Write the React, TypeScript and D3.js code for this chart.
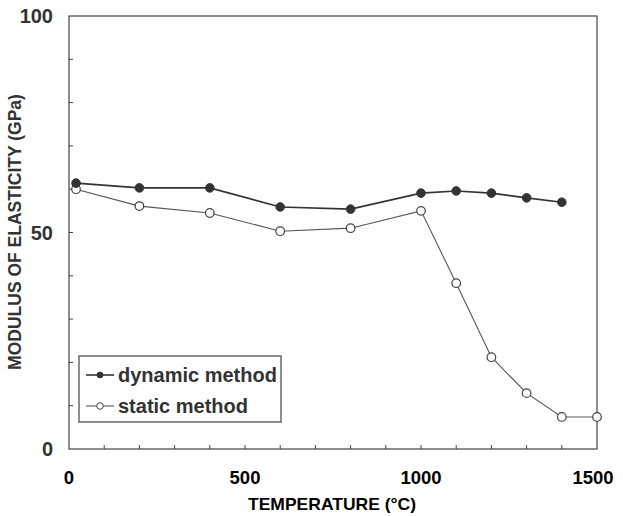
import React from 'react';
import * as d3 from 'd3';

const temperatures = [20, 200, 400, 600, 800, 1000, 1100, 1200, 1300, 1400];
const dynamicValues = [61.4, 60.3, 60.3, 55.9, 55.4, 59.1, 59.6, 59.1, 58.0, 57.0];

const staticTemps = [20, 200, 400, 600, 800, 1000, 1100, 1200, 1300, 1400, 1500];
const staticValues = [60.0, 56.1, 54.5, 50.3, 51.0, 55.0, 38.3, 21.2, 12.9, 7.4, 7.4];

const xTickLabels = [0, 500, 1000, 1500];
const yTickLabels = [0, 50, 100];

const W = 623;
const H = 516;
const left = 69;
const right = 597;
const top = 16;
const bottom = 449;

const FONT = "'Liberation Sans', Arial, sans-serif";

export default function App() {
  const x = d3.scaleLinear().domain([0, 1500]).range([left, right]);
  const y = d3.scaleLinear().domain([0, 100]).range([bottom, top]);

  const line = d3
    .line<[number, number]>()
    .x(d => x(d[0]))
    .y(d => y(d[1]));

  const dyn: [number, number][] = temperatures.map((t, i) => [t, dynamicValues[i]]);
  const sta: [number, number][] = staticTemps.map((t, i) => [t, staticValues[i]]);

  const xMinor = d3.range(100, 1500, 100);
  const yMinor = d3.range(10, 100, 10);

  return (
    <svg width={W} height={H} style={{ position: 'absolute', left: 0, top: 0, background: '#fff' }}>
      <rect x={0} y={0} width={W} height={H} fill="#fff" />
      {/* frame */}
      <rect x={left} y={y(100)} width={right - left} height={y(0) - y(100)} fill="none" stroke="#444" strokeWidth={1.2} />
      {xMinor.map(t => (
        <line key={'xt' + t} x1={x(t)} x2={x(t)} y1={y(0)} y2={y(0) - 4} stroke="#444" />
      ))}
      {yMinor.map(v => (
        <line key={'yt' + v} x1={left} x2={left + 4} y1={y(v)} y2={y(v)} stroke="#444" />
      ))}

      {/* y tick labels */}
      {yTickLabels.map(v => (
        <text key={'yl' + v} x={53} y={y(v) + 7} textAnchor="end" fontFamily={FONT} fontWeight="bold" fontSize={20} fill="#333">
          {v}
        </text>
      ))}
      {/* x tick labels */}
      {xTickLabels.map(t => (
        <text key={'xl' + t} x={x(t) - (t === 1500 ? 4 : 0)} y={484} textAnchor="middle" fontFamily={FONT} fontWeight="bold" fontSize={18.5} fill="#000">
          {t}
        </text>
      ))}

      {/* axis titles */}
      <text x={332} y={510} textAnchor="middle" fontFamily={FONT} fontWeight="bold" fontSize={17} fill="#000" textLength={168} lengthAdjust="spacingAndGlyphs">
        TEMPERATURE (°C)
      </text>
      <text
        transform={`translate(21,${232}) rotate(-90)`}
        textAnchor="middle"
        fontFamily={FONT}
        fontWeight="bold"
        fontSize={17.5}
        fill="#333"
      >
        MODULUS OF ELASTICITY (GPa)
      </text>

      {/* series */}
      <path d={line(sta) || ''} fill="none" stroke="#555" strokeWidth={1.1} />
      <path d={line(dyn) || ''} fill="none" stroke="#333" strokeWidth={1.6} />
      {sta.map((d, i) => (
        <circle key={'s' + i} cx={x(d[0])} cy={y(d[1])} r={4.3} fill="#fff" stroke="#444" strokeWidth={1.2} />
      ))}
      {dyn.map((d, i) => (
        <circle key={'d' + i} cx={x(d[0])} cy={y(d[1])} r={4.3} fill="#333" stroke="#333" strokeWidth={1} />
      ))}

      {/* legend */}
      <rect x={79} y={356} width={202} height={66} fill="#fff" stroke="#444" strokeWidth={1.2} />
      <line x1={86} x2={114} y1={375} y2={375} stroke="#333" strokeWidth={1.6} />
      <circle cx={100} cy={375} r={3.3} fill="#333" />
      <text x={118} y={382} fontFamily={FONT} fontWeight="bold" fontSize={20} fill="#333">
        dynamic method
      </text>
      <line x1={86} x2={114} y1={406} y2={406} stroke="#555" strokeWidth={1.1} />
      <circle cx={100} cy={406} r={3.3} fill="#fff" stroke="#444" />
      <text x={118} y={413} fontFamily={FONT} fontWeight="bold" fontSize={20} fill="#333">
        static method
      </text>
    </svg>
  );
}
